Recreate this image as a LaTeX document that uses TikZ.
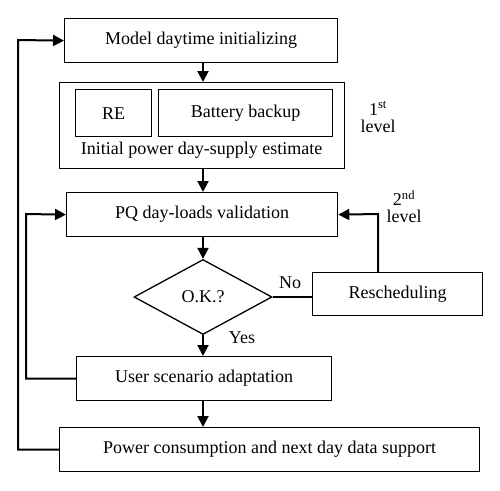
\documentclass[tikz,border=0pt]{standalone}
\usepackage{fontspec}
\setmainfont{Liberation Serif}
\usetikzlibrary{shapes.geometric,arrows.meta,calc}
\begin{document}
\begin{tikzpicture}[x=1pt,y=-1pt,
  every node/.style={font=\fontsize{18}{20}\selectfont},
  box/.style={draw,line width=1.3pt,inner sep=0pt,anchor=north west},
  conn/.style={line width=2pt},
  arr/.style={conn,-{Triangle[length=11pt,width=11pt]}},
  lbl/.style={inner sep=0pt}
]
\useasboundingbox (0,0) rectangle (500,490);
% boxes
\node[box,minimum width=273pt,minimum height=44pt] (init) at (64,18) {Model daytime initializing};
\node[box,minimum width=285pt,minimum height=86pt] (supply) at (59,82) {};
\node[box,minimum width=76pt,minimum height=47pt] (re) at (75,89) {RE};
\node[box,minimum width=174pt,minimum height=47pt] (bat) at (158,89) {Battery backup};
\node[lbl] (supplytxt) at (201.5,150) {Initial power day-supply estimate};
\node[box,minimum width=271pt,minimum height=44pt] (pq) at (66,192) {PQ day-loads validation};
\node[draw,diamond,line width=1.3pt,inner sep=0pt,minimum width=138pt,minimum height=75pt] (ok) at (203,297) {O.K.?};
\node[box,minimum width=170pt,minimum height=43pt] (resch) at (312,272) {Rescheduling};
\node[box,minimum width=255pt,minimum height=44pt] (user) at (76,356) {User scenario adaptation};
\node[box,minimum width=420pt,minimum height=44pt] (power) at (59,427) {Power consumption and next day data support};
% labels
\node[lbl,align=center] (lev1) at (378,117) {1\textsuperscript{st}\\[-3pt]level};
\node[lbl,align=center] (lev2) at (404,207) {2\textsuperscript{nd}\\[-3pt]level};
\node[lbl] (no) at (290,283) {No};
\node[lbl] (yes) at (242,338) {Yes};
% corner coordinates
\coordinate (ax) at (203,0);
\coordinate (c1) at (18,40);
\coordinate (c2) at (26,214);
\coordinate (c3) at (378,214);
% connectors
\draw[arr] (init.south -| ax) -- (supply.north -| ax);
\draw[arr] (supply.south -| ax) -- (pq.north -| ax);
\draw[arr] (pq.south -| ax) -- (ok.north);
\draw[conn] (ok.east) -- (ok.east -| resch.west);
\draw[arr] (c3 |- resch.north) -- (c3) -- (pq.east);
\draw[arr] (ok.south) -- (user.north -| ax);
\draw[arr] (user.south -| ax) -- (power.north -| ax);
\draw[arr] (user.west) -- (c2 |- user.west) -- (c2) -- (pq.west);
\draw[arr] (power.west) -- (c1 |- power.west) -- (c1) -- (init.west);
\end{tikzpicture}
\end{document}
